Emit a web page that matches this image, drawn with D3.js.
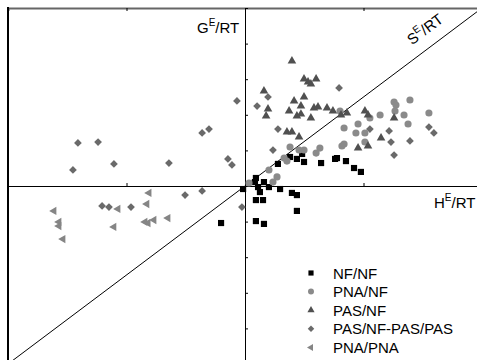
<!DOCTYPE html>
<html>
<head>
<meta charset="utf-8">
<script src="https://cdn.jsdelivr.net/npm/d3@7"></script>
<style>
  body { margin: 0; background: #fff; }
  text { font-family: "Liberation Sans", Arial, sans-serif; }
</style>
</head>
<body>
<div id="chart"></div>
<script>
// excess functions: [H/RT, G/RT]
const nfNf = [
  [0.190, 0.163], [0.219, 0.152], [0.241, 0.180], [0.249, 0.135], [0.139, 0.124],
  [0.321, 0.129], [0.380, 0.152], [0.388, 0.157], [0.426, 0.140], [0.460, 0.101],
  [0.489, 0.079], [0.046, 0.045], [-0.008, -0.017], [0.042, 0.022], [0.080, 0.022],
  [0.055, -0.006], [0.063, -0.034], [0.101, -0.006], [0.148, -0.017], [0.198, -0.039],
  [0.219, -0.051], [0.219, -0.140], [0.046, -0.079], [0.076, -0.079], [0.046, -0.197],
  [0.080, -0.213], [-0.101, -0.208]
];
const pnaNf = [
  [0.629, 0.472], [0.637, 0.455], [0.696, 0.483], [0.633, 0.421], [0.671, 0.399],
  [0.570, 0.399], [0.527, 0.382], [0.776, 0.410], [0.688, 0.348], [0.418, 0.326],
  [0.477, 0.348], [0.468, 0.298], [0.506, 0.298], [0.506, 0.247], [0.409, 0.225],
  [0.418, 0.236], [0.190, 0.219], [0.228, 0.202], [0.249, 0.202], [0.316, 0.213],
  [0.300, 0.185], [0.165, 0.157], [0.177, 0.140], [0.101, 0.090], [0.135, 0.051],
  [0.118, 0.022], [0.401, 0.421], [0.017, 0.017]
];
const pasNf = [
  [0.198, 0.702], [0.249, 0.601], [0.266, 0.584], [0.278, 0.573], [0.300, 0.601],
  [0.080, 0.534], [0.097, 0.433], [0.089, 0.393], [0.207, 0.478], [0.249, 0.500],
  [0.236, 0.449], [0.186, 0.421], [0.219, 0.393], [0.236, 0.404], [0.278, 0.382],
  [0.291, 0.438], [0.308, 0.444], [0.346, 0.438], [0.371, 0.421], [0.405, 0.399],
  [0.430, 0.410], [0.506, 0.421], [0.519, 0.399], [0.629, 0.382], [0.177, 0.303],
  [0.198, 0.303], [0.228, 0.275], [0.477, 0.213], [0.519, 0.225], [0.574, 0.270]
];
const pasPas = [
  [-0.705, 0.242], [-0.620, 0.247], [-0.726, 0.090], [-0.553, 0.124], [-0.321, 0.129],
  [-0.181, 0.298], [-0.152, 0.320], [-0.072, 0.152], [-0.055, 0.118], [-0.034, 0.478],
  [-0.603, -0.112], [-0.574, -0.118], [-0.481, -0.118], [-0.253, -0.051], [-0.181, -0.028],
  [-0.013, -0.118], [0.097, 0.500], [0.051, 0.449], [0.397, 0.551], [0.139, 0.320],
  [0.118, 0.202], [0.527, 0.320], [0.608, 0.309], [0.616, 0.247], [0.629, 0.174],
  [0.696, 0.253], [0.776, 0.331], [0.797, 0.298]
];
const pnaPna = [
  [-0.806, -0.140], [-0.785, -0.202], [-0.785, -0.225], [-0.768, -0.298], [-0.536, -0.129],
  [-0.553, -0.230], [-0.405, -0.039], [-0.414, -0.101], [-0.422, -0.202], [-0.409, -0.208],
  [-0.384, -0.191], [-0.325, -0.180]
];

const seriesNames = ["NF/NF", "PNA/NF", "PAS/NF", "PAS/NF-PAS/PAS", "PNA/PNA"];
const xTicks = [-1, -0.5, 0, 0.5, 1];
const yTicks = [-1, -0.8, -0.6, -0.4, -0.2, 0, 0.2, 0.4, 0.6, 0.8, 1];

const W = 477, H = 360;
const x = d3.scaleLinear().domain([-1, 1]).range([8, 482]);
const y = d3.scaleLinear().domain([-1, 1]).range([364, 8]);

const svg = d3.select('#chart').append('svg')
  .attr('width', W).attr('height', H);

// marker styles per series
const styles = [
  { data: nfNf,   type: d3.symbolSquare,   size: 38, rot: 0,   fill: '#000' },
  { data: pnaNf,  type: d3.symbolCircle,   size: 40, rot: 0,   fill: '#8a8a8a' },
  { data: pasNf,  type: d3.symbolTriangle, size: 32, rot: 0,   fill: '#505050' },
  { data: pasPas, type: d3.symbolSquare,   size: 30, rot: 45,  fill: '#6a6a6a' },
  { data: pnaPna, type: d3.symbolTriangle, size: 30, rot: -90, fill: '#858585' }
];

// frame: top and left edges (the rest is cut off)
svg.append('g')
  .attr('transform', `translate(0,${y(1)})`)
  .call(d3.axisBottom(x).tickValues([-0.5, 0.5]).tickSize(3).tickFormat(''))
  .call(g => g.select('.domain').attr('stroke', '#666').attr('stroke-width', 2));
svg.append('line')
  .attr('x1', x(-1)).attr('x2', x(-1))
  .attr('y1', y(1) - 1).attr('y2', H)
  .attr('stroke', '#000').attr('stroke-width', 2);

// axes through the origin
svg.append('g')
  .attr('transform', `translate(0,${y(0)})`)
  .call(d3.axisTop(x).tickValues(xTicks).tickSize(3).tickSizeOuter(0).tickFormat(''));
svg.append('g')
  .attr('transform', `translate(${x(0)},0)`)
  .call(d3.axisRight(y).tickValues(yTicks).tickSize(3).tickSizeOuter(0).tickFormat(''));

// S^E = 0 line (G = H)
svg.append('line')
  .attr('x1', x(-1)).attr('y1', y(-1))
  .attr('x2', x(1)).attr('y2', y(1))
  .attr('stroke', '#000').attr('stroke-width', 1);

styles.forEach(s => {
  const sym = d3.symbol().type(s.type).size(s.size);
  svg.append('g').selectAll('path')
    .data(s.data)
    .join('path')
    .attr('d', sym)
    .attr('transform', d => `translate(${x(d[0])},${y(d[1])}) rotate(${s.rot})`)
    .attr('fill', s.fill);
});

// axis labels
function label(t, sup, rest) {
  t.append('tspan').text(sup[0]);
  t.append('tspan').attr('font-size', 10).attr('dy', -7).text(sup[1]);
  t.append('tspan').attr('dy', 7).text(rest);
}
label(svg.append('text').attr('x', 197).attr('y', 33).attr('font-size', 15), ['G', 'E'], '/RT');
label(svg.append('text').attr('x', 434).attr('y', 208).attr('font-size', 15), ['H', 'E'], '/RT');
const ang = Math.atan2(y(0) - y(1), x(1) - x(0)) * 180 / Math.PI;
label(svg.append('text')
  .attr('transform', `translate(${x(0.735)},${y(0.735)}) rotate(${-ang}) translate(0,-12)`)
  .attr('font-size', 15), ['S', 'E'], '/RT');

// legend
const legend = svg.append('g').attr('transform', 'translate(311,273)');
seriesNames.forEach((name, i) => {
  const s = styles[i];
  const row = legend.append('g').attr('transform', `translate(0,${i * 18.6})`);
  row.append('path')
    .attr('d', d3.symbol().type(s.type).size(s.size * 0.7))
    .attr('transform', `rotate(${s.rot})`)
    .attr('fill', s.fill);
  row.append('text').attr('x', 22).attr('y', 5.5)
    .attr('font-size', 15).text(name);
});
</script>
</body>
</html>
